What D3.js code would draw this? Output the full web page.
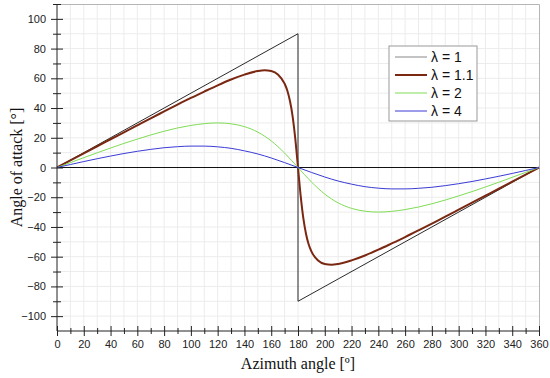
<!DOCTYPE html>
<html>
<head>
<meta charset="utf-8">
<script src="https://cdn.jsdelivr.net/npm/d3@7"></script>
<style>
  body { margin: 0; background: #fff; }
  .tick text { font-family: "Liberation Sans", Arial, sans-serif; font-size: 11px; fill: #222; }
  .title { font-family: "Liberation Serif", "Times New Roman", serif; font-size: 16px; fill: #111; }
  .legend text { font-family: "Liberation Sans", Arial, sans-serif; font-size: 14px; fill: #111; }
</style>
</head>
<body>
<svg id="chart"></svg>
<script>
"use strict";

var svg_width = 550;
var svg_height = 378;

// azimuth angles (deg) and angle of attack (deg)
var azimuth1 = [0, 180, 180, 360];
var alpha1 = [0, 90, -90, 0];

var azimuth11 = [0, 10, 20, 30, 40, 50, 60, 70, 80, 90, 100, 110, 120, 130, 140, 150, 155, 160, 165, 170,
    172, 174, 176, 178, 180, 182, 184, 186, 188, 190, 195, 200, 205, 210, 220, 230, 240, 250, 260, 270,
    280, 290, 300, 310, 320, 330, 340, 350, 360];
var alpha11 = [0, 4.8, 9.5, 14.3, 19.0, 23.7, 28.4, 33.1, 37.7, 42.3, 46.8, 51.1, 55.3, 59.2, 62.5, 64.9, 65.4, 64.9, 62.6, 56.4,
    51.8, 44.7, 34.3, 19.1, 0, -19.1, -34.3, -44.7, -51.8, -56.4, -62.6, -64.9, -65.4, -64.9, -62.5, -59.2, -55.3, -51.1, -46.8, -42.3,
    -37.7, -33.1, -28.4, -23.7, -19.0, -14.3, -9.5, -4.8, 0];

var azimuth = [0, 10, 20, 30, 40, 50, 60, 70, 80, 90, 100, 110, 120, 130, 140, 150, 160, 170, 180,
    190, 200, 210, 220, 230, 240, 250, 260, 270, 280, 290, 300, 310, 320, 330, 340, 350, 360];
var alpha2 = [0, 3.3, 6.6, 9.9, 13.1, 16.2, 19.1, 21.9, 24.4, 26.6, 28.3, 29.5, 30.0, 29.4, 27.5, 23.8, 17.9, 9.7, 0,
    -9.7, -17.9, -23.8, -27.5, -29.4, -30.0, -29.5, -28.3, -26.6, -24.4, -21.9, -19.1, -16.2, -13.1, -9.9, -6.6, -3.3, 0];
var alpha4 = [0, 2.0, 4.0, 5.9, 7.7, 9.4, 10.9, 12.2, 13.3, 14.0, 14.4, 14.4, 13.9, 12.9, 11.2, 9.1, 6.4, 3.3, 0,
    -3.3, -6.4, -9.1, -11.2, -12.9, -13.9, -14.4, -14.4, -14.0, -13.3, -12.2, -10.9, -9.4, -7.7, -5.9, -4.0, -2.0, 0];

var seriesNames = ["λ = 1", "λ = 1.1", "λ = 2", "λ = 4"];
var seriesColors = ["#2a2a2a", "#7a2812", "#7fdc55", "#3b3bd6"];
var seriesWidths = [1, 2, 1, 1];

var xTicks = d3.range(0, 361, 20);
var yTicks = d3.range(-100, 101, 20);

function zip(xs, ys) {
    return xs.map(function(x, i) { return {x: x, y: ys[i]}; });
}

var series = [
    {name: seriesNames[0], data: zip(azimuth1, alpha1), curve: d3.curveLinear},
    {name: seriesNames[1], data: zip(azimuth11, alpha11), curve: d3.curveMonotoneX},
    {name: seriesNames[2], data: zip(azimuth, alpha2), curve: d3.curveMonotoneX},
    {name: seriesNames[3], data: zip(azimuth, alpha4), curve: d3.curveMonotoneX}
];

var svg = d3.select("#chart")
    .attr("width", svg_width)
    .attr("height", svg_height);

var plotLeft = 57, plotRight = 539, plotTop = 4, plotBottom = 331;

var xScale = d3.scaleLinear().domain([0, 360]).range([plotLeft, plotRight]);
var yScale = d3.scaleLinear().domain([-110, 110]).range([plotBottom, plotTop]);

// grid every 10
var grid = svg.append("g").attr("class", "grid");
grid.selectAll(".gx").data(d3.range(10, 360, 10)).enter()
    .append("line")
    .attr("x1", function(d) { return xScale(d); })
    .attr("x2", function(d) { return xScale(d); })
    .attr("y1", plotTop).attr("y2", plotBottom)
    .attr("stroke", "#ececec").attr("stroke-width", 1);
grid.selectAll(".gy").data(d3.range(-100, 110, 10)).enter()
    .append("line")
    .attr("y1", function(d) { return yScale(d); })
    .attr("y2", function(d) { return yScale(d); })
    .attr("x1", plotLeft).attr("x2", plotRight)
    .attr("stroke", "#ececec").attr("stroke-width", 1);

// frame top / right
svg.append("path")
    .attr("d", "M" + plotLeft + "," + (plotTop + 0.5) + "H" + (plotRight + 0.5) + "V" + plotBottom)
    .attr("fill", "none").attr("stroke", "#b5b5b5");

// zero line
svg.append("line")
    .attr("x1", xScale(0)).attr("x2", xScale(360))
    .attr("y1", yScale(0)).attr("y2", yScale(0))
    .attr("stroke", "#111").attr("stroke-width", 1.2);

// curves
var line = d3.line()
    .x(function(d) { return xScale(d.x); })
    .y(function(d) { return yScale(d.y); });

svg.append("g").selectAll("path")
    .data(series)
    .enter().append("path")
    .attr("fill", "none")
    .attr("stroke", function(d, i) { return seriesColors[i]; })
    .attr("stroke-width", function(d, i) { return seriesWidths[i]; })
    .attr("d", function(d) { return line.curve(d.curve)(d.data); });

// axes, ticks crossing the axis line
var xAxis = svg.append("g")
    .attr("transform", "translate(0," + plotBottom + ")")
    .call(d3.axisBottom(xScale).tickValues(xTicks).tickSize(5).tickPadding(4));
xAxis.selectAll(".tick line").attr("y1", -5);
var xMinor = svg.append("g")
    .attr("transform", "translate(0," + plotBottom + ")")
    .call(d3.axisBottom(xScale).tickValues(d3.range(10, 360, 20)).tickSize(3).tickFormat(""));
xMinor.selectAll(".tick line").attr("y1", -3);
xMinor.select(".domain").remove();

var yAxis = svg.append("g")
    .attr("transform", "translate(" + plotLeft + ",0)")
    .call(d3.axisLeft(yScale).tickValues(yTicks).tickSize(6).tickPadding(5));
yAxis.selectAll(".tick line").attr("x1", 6);
var yMinor = svg.append("g")
    .attr("transform", "translate(" + plotLeft + ",0)")
    .call(d3.axisLeft(yScale).tickValues(d3.range(-90, 111, 20)).tickSize(4).tickFormat(""));
yMinor.selectAll(".tick line").attr("x1", 4);
yMinor.select(".domain").remove();

svg.selectAll(".domain").attr("stroke", "#222");
svg.selectAll(".tick line").attr("stroke", "#222");
xAxis.select(".domain").attr("d", "M" + plotLeft + ",0H" + plotRight);
yAxis.select(".domain").attr("d", "M0," + plotTop + "V" + plotBottom);

// titles
svg.append("text")
    .attr("class", "title")
    .attr("text-anchor", "middle")
    .attr("x", (plotLeft + plotRight) / 2)
    .attr("y", 369)
    .text("Azimuth angle [º]");
svg.append("text")
    .attr("class", "title")
    .attr("text-anchor", "middle")
    .attr("transform", "translate(22," + ((plotTop + plotBottom) / 2) + ") rotate(-90)")
    .text("Angle of attack [°]");

// legend
var legend = svg.append("g").attr("class", "legend")
    .attr("transform", "translate(389,46)");
legend.append("rect")
    .attr("width", 88).attr("height", 75)
    .attr("fill", "#fff").attr("stroke", "#999");
var items = legend.selectAll(".item").data(seriesNames).enter()
    .append("g").attr("class", "item")
    .attr("transform", function(d, i) { return "translate(0," + (11 + i * 18) + ")"; });
items.append("line")
    .attr("x1", 6).attr("x2", 38)
    .attr("stroke", function(d, i) { return i === 0 ? "#888" : seriesColors[i]; })
    .attr("stroke-width", function(d, i) { return seriesWidths[i]; });
items.append("text")
    .attr("x", 42).attr("y", 5)
    .text(function(d) { return d; });
</script>
</body>
</html>
